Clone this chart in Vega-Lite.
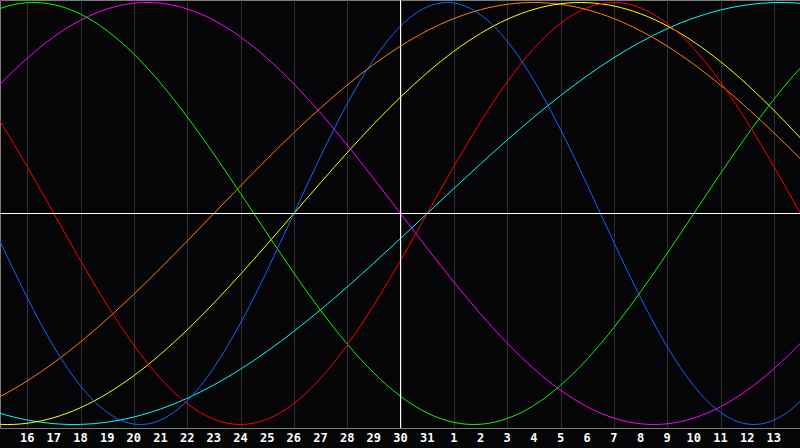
{
  "$schema": "https://vega.github.io/schema/vega-lite/v6.json",
  "width": 800,
  "height": 428,
  "autosize": {"type": "none"},
  "padding": {"left": 0, "top": 0, "right": 0, "bottom": 20},
  "background": "#050407",
  "config": {
    "view": {"stroke": "#7a7a7a", "fill": "#050407"}
  },
  "layer": [
    {
      "data": {
        "values": [
          {"p": -1, "red": 0.6235, "blue": 0.1362, "green": 0.9096, "magenta": 0.4759, "yellow": -0.9834, "orange": -0.9239, "cyan": -0.9027},
          {"p": 0, "red": 0.4339, "blue": -0.1362, "green": 0.9718, "magenta": 0.6142, "yellow": -0.9993, "orange": -0.866, "cyan": -0.9473},
          {"p": 1, "red": 0.2225, "blue": -0.3984, "green": 0.9989, "magenta": 0.7357, "yellow": -0.994, "orange": -0.7934, "cyan": -0.9786},
          {"p": 2, "red": 0, "blue": -0.6311, "green": 0.9898, "magenta": 0.8372, "yellow": -0.9675, "orange": -0.7071, "cyan": -0.996},
          {"p": 3, "red": -0.2225, "blue": -0.817, "green": 0.945, "magenta": 0.9158, "yellow": -0.9203, "orange": -0.6088, "cyan": -0.9996},
          {"p": 4, "red": -0.4339, "blue": -0.9423, "green": 0.866, "magenta": 0.9694, "yellow": -0.8535, "orange": -0.5, "cyan": -0.989},
          {"p": 5, "red": -0.6235, "blue": -0.9977, "green": 0.7557, "magenta": 0.9966, "yellow": -0.7687, "orange": -0.3827, "cyan": -0.9646},
          {"p": 6, "red": -0.7818, "blue": -0.9791, "green": 0.6182, "magenta": 0.9966, "yellow": -0.6673, "orange": -0.2588, "cyan": -0.9267},
          {"p": 7, "red": -0.901, "blue": -0.8879, "green": 0.4582, "magenta": 0.9694, "yellow": -0.5518, "orange": -0.1305, "cyan": -0.8758},
          {"p": 8, "red": -0.9749, "blue": -0.7308, "green": 0.2817, "magenta": 0.9158, "yellow": -0.4245, "orange": 0, "cyan": -0.8126},
          {"p": 9, "red": -1, "blue": -0.5196, "green": 0.0951, "magenta": 0.8372, "yellow": -0.2881, "orange": 0.1305, "cyan": -0.738},
          {"p": 10, "red": -0.9749, "blue": -0.2698, "green": -0.0951, "magenta": 0.7357, "yellow": -0.1456, "orange": 0.2588, "cyan": -0.6529},
          {"p": 11, "red": -0.901, "blue": 0, "green": -0.2817, "magenta": 0.6142, "yellow": 0, "orange": 0.3827, "cyan": -0.5586},
          {"p": 12, "red": -0.7818, "blue": 0.2698, "green": -0.4582, "magenta": 0.4759, "yellow": 0.1456, "orange": 0.5, "cyan": -0.4566},
          {"p": 13, "red": -0.6235, "blue": 0.5196, "green": -0.6182, "magenta": 0.3247, "yellow": 0.2881, "orange": 0.6088, "cyan": -0.3482},
          {"p": 14, "red": -0.4339, "blue": 0.7308, "green": -0.7557, "magenta": 0.1646, "yellow": 0.4245, "orange": 0.7071, "cyan": -0.2349},
          {"p": 15, "red": -0.2225, "blue": 0.8879, "green": -0.866, "magenta": 0, "yellow": 0.5518, "orange": 0.7934, "cyan": -0.1183},
          {"p": 16, "red": 0, "blue": 0.9791, "green": -0.945, "magenta": -0.1646, "yellow": 0.6673, "orange": 0.866, "cyan": 0},
          {"p": 17, "red": 0.2225, "blue": 0.9977, "green": -0.9898, "magenta": -0.3247, "yellow": 0.7687, "orange": 0.9239, "cyan": 0.1183},
          {"p": 18, "red": 0.4339, "blue": 0.9423, "green": -0.9989, "magenta": -0.4759, "yellow": 0.8535, "orange": 0.9659, "cyan": 0.2349},
          {"p": 19, "red": 0.6235, "blue": 0.817, "green": -0.9718, "magenta": -0.6142, "yellow": 0.9203, "orange": 0.9914, "cyan": 0.3482},
          {"p": 20, "red": 0.7818, "blue": 0.6311, "green": -0.9096, "magenta": -0.7357, "yellow": 0.9675, "orange": 1, "cyan": 0.4566},
          {"p": 21, "red": 0.901, "blue": 0.3984, "green": -0.8146, "magenta": -0.8372, "yellow": 0.994, "orange": 0.9914, "cyan": 0.5586},
          {"p": 22, "red": 0.9749, "blue": 0.1362, "green": -0.6901, "magenta": -0.9158, "yellow": 0.9993, "orange": 0.9659, "cyan": 0.6529},
          {"p": 23, "red": 1, "blue": -0.1362, "green": -0.5406, "magenta": -0.9694, "yellow": 0.9834, "orange": 0.9239, "cyan": 0.738},
          {"p": 24, "red": 0.9749, "blue": -0.3984, "green": -0.3717, "magenta": -0.9966, "yellow": 0.9465, "orange": 0.866, "cyan": 0.8126},
          {"p": 25, "red": 0.901, "blue": -0.6311, "green": -0.1893, "magenta": -0.9966, "yellow": 0.8894, "orange": 0.7934, "cyan": 0.8758},
          {"p": 26, "red": 0.7818, "blue": -0.817, "green": 0, "magenta": -0.9694, "yellow": 0.8133, "orange": 0.7071, "cyan": 0.9267},
          {"p": 27, "red": 0.6235, "blue": -0.9423, "green": 0.1893, "magenta": -0.9158, "yellow": 0.7199, "orange": 0.6088, "cyan": 0.9646},
          {"p": 28, "red": 0.4339, "blue": -0.9977, "green": 0.3717, "magenta": -0.8372, "yellow": 0.6112, "orange": 0.5, "cyan": 0.989},
          {"p": 29, "red": 0.2225, "blue": -0.9791, "green": 0.5406, "magenta": -0.7357, "yellow": 0.4894, "orange": 0.3827, "cyan": 0.9996},
          {"p": 30, "red": 0, "blue": -0.8879, "green": 0.6901, "magenta": -0.6142, "yellow": 0.3572, "orange": 0.2588, "cyan": 0.996},
          {"p": 31, "red": -0.2225, "blue": -0.7308, "green": 0.8146, "magenta": -0.4759, "yellow": 0.2174, "orange": 0.1305, "cyan": 0.9786}
        ]
      },
      "transform": [
        {"fold": ["cyan", "orange", "yellow", "magenta", "green", "blue", "red"], "as": ["curve", "v"]}
      ],
      "mark": {"type": "line", "interpolate": "natural", "clip": true, "strokeWidth": 1},
      "encoding": {
        "x": {
          "field": "p",
          "type": "quantitative",
          "scale": {"domain": [-0.01875, 29.98125], "nice": false, "zero": false},
          "axis": {
            "values": [1, 2, 3, 4, 5, 6, 7, 8, 9, 10, 11, 12, 13, 14, 15, 16, 17, 18, 19, 20, 21, 22, 23, 24, 25, 26, 27, 28, 29],
            "title": null,
            "grid": true,
            "gridColor": "#303030",
            "gridWidth": 1,
            "ticks": false,
            "labels": false,
            "domain": true,
            "domainColor": "#7a7a7a"
          }
        },
        "y": {
          "field": "v",
          "type": "quantitative",
          "scale": {"domain": [-1.01656, 1.01184], "nice": false, "zero": false},
          "axis": null
        },
        "color": {
          "field": "curve",
          "type": "nominal",
          "scale": {
            "domain": ["red", "blue", "green", "magenta", "yellow", "orange", "cyan"],
            "range": ["#ff0000", "#1464ff", "#00ff00", "#ff00ff", "#ffff00", "#ff8000", "#00ffff"]
          },
          "legend": null
        }
      }
    },
    {
      "data": {"values": [{"p": 15}]},
      "mark": {"type": "rule", "color": "#ffffff", "strokeWidth": 1},
      "encoding": {"x": {"field": "p", "type": "quantitative"}}
    },
    {
      "data": {"values": [{"v": 0}]},
      "mark": {"type": "rule", "color": "#ffffff", "strokeWidth": 1},
      "encoding": {"y": {"field": "v", "type": "quantitative"}}
    },
    {
      "data": {
        "values": [
          {"p": 1, "label": "16"}, {"p": 2, "label": "17"}, {"p": 3, "label": "18"}, {"p": 4, "label": "19"},
          {"p": 5, "label": "20"}, {"p": 6, "label": "21"}, {"p": 7, "label": "22"}, {"p": 8, "label": "23"},
          {"p": 9, "label": "24"}, {"p": 10, "label": "25"}, {"p": 11, "label": "26"}, {"p": 12, "label": "27"},
          {"p": 13, "label": "28"}, {"p": 14, "label": "29"}, {"p": 15, "label": "30"}, {"p": 16, "label": "31"},
          {"p": 17, "label": "1"}, {"p": 18, "label": "2"}, {"p": 19, "label": "3"}, {"p": 20, "label": "4"},
          {"p": 21, "label": "5"}, {"p": 22, "label": "6"}, {"p": 23, "label": "7"}, {"p": 24, "label": "8"},
          {"p": 25, "label": "9"}, {"p": 26, "label": "10"}, {"p": 27, "label": "11"}, {"p": 28, "label": "12"},
          {"p": 29, "label": "13"}
        ]
      },
      "mark": {
        "type": "text",
        "color": "#ffffff",
        "font": "DejaVu Sans Mono",
        "fontWeight": "bold",
        "fontSize": 12,
        "baseline": "top",
        "align": "center",
        "dy": 5
      },
      "encoding": {
        "x": {"field": "p", "type": "quantitative"},
        "y": {"datum": -1.01656, "type": "quantitative"},
        "text": {"field": "label", "type": "nominal"}
      }
    }
  ]
}
